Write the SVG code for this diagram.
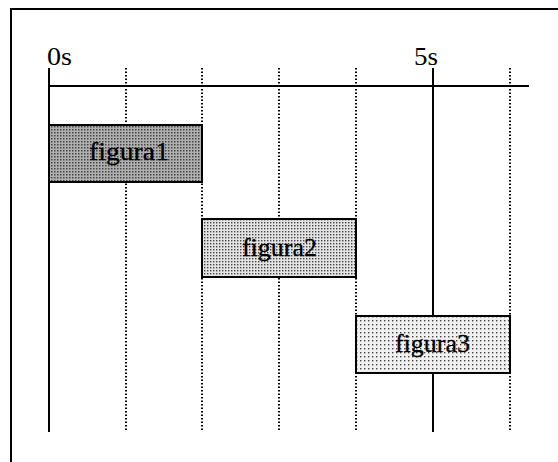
<svg xmlns="http://www.w3.org/2000/svg" width="558" height="462" viewBox="0 0 558 462">
<style>
.solid{stroke:#000;stroke-width:2;fill:none}
.dot{stroke:#000;stroke-width:2;stroke-dasharray:1.5 2;fill:none}
.box{stroke:#000;stroke-width:2}
.lbl{font-family:"Liberation Serif",serif;font-size:25px;fill:#000}
.txt{font-family:"Liberation Serif",serif;font-size:26px;fill:#000;stroke:#000;stroke-width:0.3;text-anchor:middle}
</style>
<defs>
<pattern id="p1" width="3" height="3" patternUnits="userSpaceOnUse"><rect width="3" height="3" fill="#b0b0b0"/><rect width="1.5" height="1.5" fill="#444"/></pattern>
<pattern id="p2" width="3" height="3" patternUnits="userSpaceOnUse"><rect width="3" height="3" fill="#e4e4e4"/><rect width="1.4" height="1.4" fill="#444"/></pattern>
<pattern id="p3" width="4" height="4" patternUnits="userSpaceOnUse"><rect width="4" height="4" fill="#f0f0f0"/><rect width="1.4" height="1.4" fill="#444"/></pattern>
</defs>
<g id="frame">
<line class="solid" x1="10" y1="9" x2="558" y2="9"/>
<line class="solid" x1="11" y1="9" x2="11" y2="462"/>
</g>
<g id="connectors">
<line class="solid" x1="49" y1="86" x2="529" y2="86"/>
<line class="solid" x1="49" y1="68" x2="49" y2="432"/>
<line class="dot" x1="126" y1="68" x2="126" y2="432"/>
<line class="dot" x1="202" y1="68" x2="202" y2="432"/>
<line class="dot" x1="279" y1="68" x2="279" y2="432"/>
<line class="dot" x1="356" y1="68" x2="356" y2="432"/>
<line class="solid" x1="433" y1="68" x2="433" y2="432"/>
<line class="dot" x1="510" y1="68" x2="510" y2="432"/>
</g>
<g id="label-0s"><text class="lbl" x="47" y="65" textLength="25" lengthAdjust="spacingAndGlyphs">0s</text></g>
<g id="label-5s"><text class="lbl" x="414" y="65" textLength="24" lengthAdjust="spacingAndGlyphs">5s</text></g>
<g id="figura1">
<rect class="box" x="49" y="125" width="153" height="57" fill="url(#p1)"/>
<text class="txt" x="129" y="160" textLength="80" lengthAdjust="spacingAndGlyphs">figura1</text>
</g>
<g id="figura2">
<rect class="box" x="202" y="219" width="154" height="58" fill="url(#p2)"/>
<text class="txt" x="279.5" y="256">figura2</text>
</g>
<g id="figura3">
<rect class="box" x="356" y="316" width="154" height="57" fill="url(#p3)"/>
<text class="txt" x="432.5" y="352">figura3</text>
</g>
</svg>
